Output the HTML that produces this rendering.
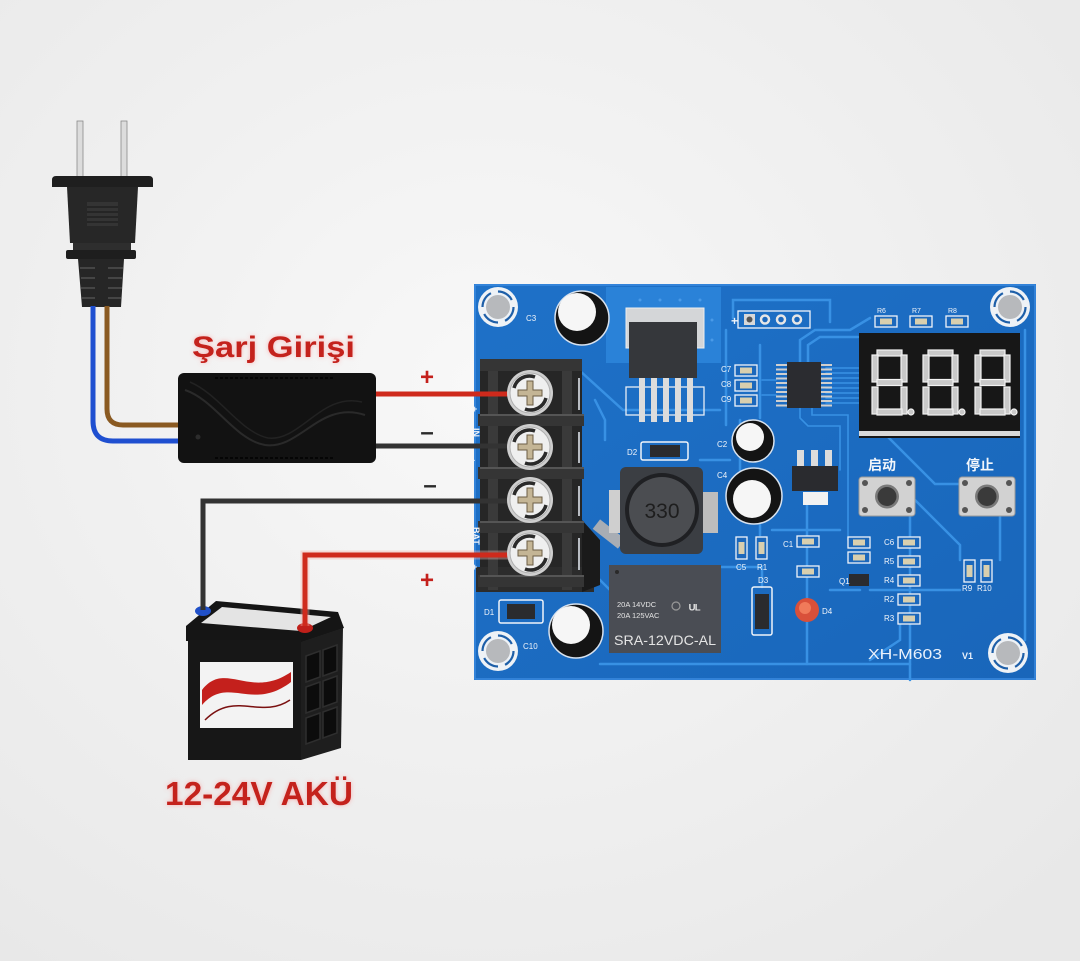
<!DOCTYPE html>
<html><head><meta charset="utf-8"><style>
html,body{margin:0;padding:0;width:1080px;height:961px;overflow:hidden;background:#efefef}
svg{display:block}
</style></head><body>
<svg width="1080" height="961" viewBox="0 0 1080 961" xmlns="http://www.w3.org/2000/svg">
<defs>
<radialGradient id="bg" cx="45%" cy="40%" r="75%"><stop offset="0" stop-color="#f8f8f8"/><stop offset="1" stop-color="#e8e8e8"/></radialGradient>
<linearGradient id="pcb" x1="0" y1="0" x2="1" y2="1"><stop offset="0" stop-color="#1e71c8"/><stop offset="1" stop-color="#1966ba"/></linearGradient>
<filter id="glow" x="-10%" y="-40%" width="120%" height="180%"><feGaussianBlur in="SourceAlpha" stdDeviation="2.5" result="b"/><feFlood flood-color="#ff7070" flood-opacity="0.5"/><feComposite in2="b" operator="in" result="g"/><feMerge><feMergeNode in="g"/><feMergeNode in="SourceGraphic"/></feMerge></filter>
<g id="screw">
<circle r="23" fill="#cfcfcf"/>
<circle r="20" fill="#efefef" stroke="#b0b0b0" stroke-width="1"/>
<path d="M-16,-5 A16,16 0 0 1 5,-16" stroke="#2a2a2a" stroke-width="3.5" fill="none"/>
<path d="M16,5 A16,16 0 0 1 -5,16" stroke="#2a2a2a" stroke-width="3.5" fill="none"/>
<path d="M-3,-12 L3,-12 L3,-3 L12,-3 L12,3 L3,3 L3,12 L-3,12 L-3,3 L-12,3 L-12,-3 L-3,-3Z" fill="#c4b595" stroke="#6b5d45" stroke-width="1"/>
</g>
<g id="hole">
<circle r="20" fill="#eef2f6"/>
<circle r="15.5" fill="none" stroke="#1e5fa8" stroke-width="2.2" stroke-dasharray="17 7.3"/>
<circle r="12" fill="#b7b9bc"/>
</g>
<g id="smd"><rect x="0" y="0" width="22" height="11" fill="#1c68bc" stroke="#f0f4fa" stroke-width="1.3"/><rect x="5" y="2.5" width="12" height="6" fill="#d9cfae"/></g>
<g id="smdv"><rect x="0" y="0" width="11" height="22" fill="#1c68bc" stroke="#f0f4fa" stroke-width="1.3"/><rect x="2.5" y="5" width="6" height="12" fill="#d9cfae"/></g>
<g id="dig" fill="#c9c9c9" stroke="#f2f2f2" stroke-width="1.2">
<rect x="5" y="0" width="25" height="6"/><rect x="0" y="5" width="6" height="27"/><rect x="29" y="5" width="6" height="27"/>
<rect x="5" y="29.5" width="25" height="6"/><rect x="0" y="37" width="6" height="27"/><rect x="29" y="37" width="6" height="27"/>
<rect x="5" y="59" width="25" height="6"/><circle cx="39" cy="62" r="3"/>
</g>
<g id="btn">
<rect x="0" y="0" width="56" height="39" rx="3" fill="#d2d2d2" stroke="#9a9a9a" stroke-width="1"/>
<circle cx="6" cy="6" r="3" fill="#555"/><circle cx="50" cy="6" r="3" fill="#555"/><circle cx="6" cy="33" r="3" fill="#555"/><circle cx="50" cy="33" r="3" fill="#555"/>
<circle cx="28" cy="19.5" r="12" fill="#7a7a7a"/><circle cx="28" cy="19.5" r="9.5" fill="#3a3a3a"/>
</g>
</defs>

<rect width="1080" height="961" fill="url(#bg)"/>

<!-- plug -->
<rect x="77" y="121" width="6" height="58" fill="#dcdcdc" stroke="#8a8a8a" stroke-width="0.8"/>
<rect x="121" y="121" width="6" height="58" fill="#dcdcdc" stroke="#8a8a8a" stroke-width="0.8"/>
<path d="M56,176 H149 Q153,176 153,180 V187 H52 V180 Q52,176 56,176Z" fill="#1f1f1f"/>
<path d="M67,187 H138 L135,243 H70 Z" fill="#272727"/>
<rect x="87" y="202" width="31" height="24" fill="#343434"/>
<g stroke="#1c1c1c" stroke-width="1.3"><line x1="87" y1="207" x2="118" y2="207"/><line x1="87" y1="212" x2="118" y2="212"/><line x1="87" y1="217" x2="118" y2="217"/><line x1="87" y1="222" x2="118" y2="222"/></g>
<rect x="73" y="243" width="58" height="8" fill="#2e2e2e"/>
<rect x="66" y="250" width="70" height="9" rx="2" fill="#1e1e1e"/>
<path d="M78,259 H124 L121,307 H82 Z" fill="#262626"/>
<g stroke="#454545" stroke-width="2"><line x1="80" y1="268" x2="95" y2="268"/><line x1="108" y1="268" x2="123" y2="268"/><line x1="81" y1="278" x2="95" y2="278"/><line x1="108" y1="278" x2="122" y2="278"/><line x1="81" y1="288" x2="95" y2="288"/><line x1="108" y1="288" x2="122" y2="288"/><line x1="82" y1="298" x2="95" y2="298"/><line x1="108" y1="298" x2="121" y2="298"/></g>
<!-- mains wires -->
<path d="M93,306 V421 Q93,441 113,441 H182" stroke="#1f4fd0" stroke-width="5" fill="none"/>
<path d="M107,306 V409 Q107,425 123,425 H182" stroke="#8a5a22" stroke-width="5" fill="none"/>

<!-- charger box -->
<rect x="178" y="373" width="198" height="90" rx="6" fill="#121212"/>
<path d="M185,390 C215,400 235,440 265,445 C300,450 320,400 365,415" stroke="#2a2a2a" stroke-width="2" fill="none"/>
<path d="M190,382 C220,395 240,432 268,438 C300,442 322,392 362,402" stroke="#222" stroke-width="1.5" fill="none"/>
<g stroke="#050505" stroke-width="2"><line x1="215" y1="378" x2="335" y2="378" stroke-dasharray="3 2"/><line x1="215" y1="458" x2="335" y2="458" stroke-dasharray="3 2"/></g>
<circle cx="198" cy="437" r="2.5" fill="#2c2c2c"/>

<text x="192" y="357" font-family="Liberation Sans, sans-serif" font-weight="bold" font-size="30" fill="#c4201c" textLength="163" lengthAdjust="spacingAndGlyphs" filter="url(#glow)">Şarj Girişi</text>

<!-- wire signs -->
<g font-family="Liberation Sans, sans-serif" font-weight="bold" font-size="24" text-anchor="middle">
<text x="427" y="385" fill="#c4201c">+</text>
<text x="427" y="440" fill="#2a2a2a">–</text>
<text x="430" y="493" fill="#2a2a2a">–</text>
<text x="427" y="588" fill="#c4201c">+</text>
</g>

<!-- battery -->
<polygon points="186,626 216,601 338,612 344,628 302,642 186,641" fill="#151515"/>
<polygon points="201,623 222,607 331,617 301,631" fill="#e4e4e4"/>
<rect x="188" y="640" width="113" height="120" fill="#171717"/>
<polygon points="301,642 343,628 341,748 301,760" fill="#1e1e1e"/>
<g fill="#0c0c0c" stroke="#2e2e2e" stroke-width="1.5">
<polygon points="306,656 320,651 320,677 306,682"/><polygon points="323,650 337,645 337,671 323,676"/>
<polygon points="306,687 320,682 320,708 306,713"/><polygon points="323,681 337,676 337,702 323,707"/>
<polygon points="306,718 320,713 320,739 306,744"/><polygon points="323,712 337,707 337,733 323,738"/>
</g>
<rect x="200" y="662" width="93" height="66" fill="#f3f3f3"/>
<path d="M202,690 C225,660 250,700 291,672 L291,682 C252,712 228,675 202,705 Z" fill="#c4201c"/>
<path d="M205,720 C235,690 260,720 290,700" stroke="#7a1010" stroke-width="1.5" fill="none"/>
<ellipse cx="203" cy="611" rx="8" ry="5" fill="#2050c8"/>
<ellipse cx="305" cy="628" rx="8" ry="5" fill="#c0201a"/>

<text x="165" y="805" font-family="Liberation Sans, sans-serif" font-weight="bold" font-size="33" fill="#c4201c" textLength="188" lengthAdjust="spacingAndGlyphs" filter="url(#glow)">12-24V AKÜ</text>

<!-- PCB -->
<rect x="474" y="284" width="562" height="396" fill="url(#pcb)"/>
<rect x="475" y="285" width="560" height="394" fill="none" stroke="#3a8ae0" stroke-width="1.5"/>
<rect x="606" y="287" width="115" height="76" fill="#2a82d8"/>
<g fill="#4a9ae8"><circle cx="640" cy="300" r="1.5"/><circle cx="660" cy="300" r="1.5"/><circle cx="680" cy="300" r="1.5"/><circle cx="700" cy="300" r="1.5"/><circle cx="712" cy="320" r="1.5"/><circle cx="712" cy="340" r="1.5"/></g>

<!-- traces -->
<g stroke="#3891e4" stroke-width="2.5" fill="none" stroke-linecap="round">
<path d="M579,370 L623,410 H720"/>
<path d="M726,330 V425"/>
<path d="M733,318 V300 H830 V322"/>
<path d="M760,345 V418"/>
<path d="M800,362 V340 L815,330 H850 L870,318"/>
<path d="M808,362 V345 L820,337 H858"/>
<g stroke-width="1.6"><path d="M826,368 H859"/><path d="M826,373 H859"/><path d="M826,378 H859"/><path d="M826,383 H859"/><path d="M826,388 H859"/><path d="M826,393 H859"/><path d="M826,398 H859"/><path d="M826,403 H859"/>
<path d="M800,408 V418 L808,426 H840 V470"/><path d="M812,408 V415 H848 V540"/><path d="M776,380 H762"/><path d="M776,395 H762"/></g>
<path d="M888,437 L935,484 H960"/>
<path d="M1000,516 V560"/>
<path d="M915,500 L960,545 V560"/>
<path d="M910,516 V680"/>
<path d="M600,664 H910"/>
<path d="M807,505 V664"/>
<path d="M830,590 H860 M870,590 H960"/>
<path d="M721,567 H762 V587"/>
<path d="M772,530 H840"/>
<path d="M700,460 H730"/>
<path d="M580,560 L612,592"/>
<path d="M595,400 L605,420 V440"/>
<path d="M1025,330 V640"/>
<path d="M870,660 L900,640 V620"/>
<path d="M740,420 V470"/>
<path d="M760,525 V535"/>
</g>

<!-- mounting holes -->
<use href="#hole" x="498" y="307"/>
<use href="#hole" x="1010" y="307"/>
<use href="#hole" x="498" y="651"/>
<use href="#hole" x="1008" y="653"/>

<!-- capacitors -->
<circle cx="582" cy="318" r="27" fill="#141414" stroke="#d8e2ee" stroke-width="1.5"/>
<circle cx="577" cy="312" r="19" fill="#f6f6f6"/>
<circle cx="576" cy="631" r="27" fill="#141414" stroke="#d8e2ee" stroke-width="1.5"/>
<circle cx="571" cy="625" r="19" fill="#f6f6f6"/>
<circle cx="753" cy="441" r="21" fill="#141414" stroke="#d8e2ee" stroke-width="1.5"/>
<circle cx="750" cy="437" r="14" fill="#f6f6f6"/>
<circle cx="754" cy="496" r="28" fill="#141414" stroke="#d8e2ee" stroke-width="1.5"/>
<circle cx="752" cy="499" r="19" fill="#f6f6f6"/>

<!-- TO-263 regulator -->
<rect x="626" y="308" width="78" height="40" fill="#d4d6d8" stroke="#eee" stroke-width="1"/>
<rect x="629" y="322" width="68" height="56" fill="#35373b"/>
<rect x="626" y="387" width="78" height="28" fill="none" stroke="#e8eef6" stroke-width="1.3"/>
<g fill="#dcdcdc"><rect x="639" y="378" width="6" height="44"/><rect x="651" y="378" width="6" height="44"/><rect x="663" y="378" width="6" height="44"/><rect x="675" y="378" width="6" height="44"/><rect x="687" y="378" width="6" height="44"/></g>

<!-- header -->
<rect x="738" y="311" width="72" height="17" fill="none" stroke="#f0f4fa" stroke-width="1.3"/>
<rect x="744" y="314" width="11" height="11" fill="#d8d8d8"/><circle cx="749.5" cy="319.5" r="3" fill="#555"/>
<g fill="#1c68bc" stroke="#e6e6e6" stroke-width="2.5"><circle cx="765" cy="319.5" r="4"/><circle cx="781" cy="319.5" r="4"/><circle cx="797" cy="319.5" r="4"/></g>

<!-- C7 C8 C9 -->
<use href="#smd" x="735" y="365"/><use href="#smd" x="735" y="380"/><use href="#smd" x="735" y="395"/>

<!-- IC -->
<g fill="#cfcfcf"><rect x="776" y="364" width="11" height="2"/><rect x="776" y="368.5" width="11" height="2"/><rect x="776" y="373" width="11" height="2"/><rect x="776" y="377.5" width="11" height="2"/><rect x="776" y="382" width="11" height="2"/><rect x="776" y="386.5" width="11" height="2"/><rect x="776" y="391" width="11" height="2"/><rect x="776" y="395.5" width="11" height="2"/><rect x="776" y="400" width="11" height="2"/><rect x="776" y="404.5" width="11" height="2"/>
<rect x="821" y="364" width="11" height="2"/><rect x="821" y="368.5" width="11" height="2"/><rect x="821" y="373" width="11" height="2"/><rect x="821" y="377.5" width="11" height="2"/><rect x="821" y="382" width="11" height="2"/><rect x="821" y="386.5" width="11" height="2"/><rect x="821" y="391" width="11" height="2"/><rect x="821" y="395.5" width="11" height="2"/><rect x="821" y="400" width="11" height="2"/><rect x="821" y="404.5" width="11" height="2"/></g>
<rect x="787" y="362" width="34" height="46" fill="#2b2c30"/>

<!-- display -->
<rect x="859" y="333" width="161" height="105" fill="#171717"/>
<rect x="859" y="431" width="161" height="5" fill="#d9d9d9"/>
<use href="#dig" x="872" y="350"/><use href="#dig" x="923" y="350"/><use href="#dig" x="975" y="350"/>

<!-- R6 R7 R8 -->
<use href="#smd" x="875" y="316"/><use href="#smd" x="910" y="316"/><use href="#smd" x="946" y="316"/>

<!-- D2 -->
<rect x="641" y="442" width="47" height="18" rx="2" fill="none" stroke="#f0f4fa" stroke-width="1.5"/>
<rect x="650" y="445" width="30" height="12" fill="#2a2b2e"/>

<!-- inductor -->
<rect x="593" y="528" width="32" height="12" fill="#a8adb4" transform="rotate(38 609 534)"/>
<rect x="609" y="490" width="13" height="43" fill="#cfcfcf"/>
<rect x="702" y="492" width="16" height="41" fill="#bdbdbd"/>
<rect x="620" y="467" width="83" height="87" rx="6" fill="#3b3e43"/>
<circle cx="662" cy="510" r="37" fill="#1f2023"/>
<circle cx="662" cy="510" r="33" fill="#4b4d51"/>
<text x="662" y="518" font-family="Liberation Sans, sans-serif" font-size="21" fill="#1e1e1e" text-anchor="middle">330</text>

<!-- SOT-223 -->
<g fill="#dcdcdc"><rect x="797" y="450" width="7" height="18"/><rect x="811" y="450" width="7" height="18"/><rect x="825" y="450" width="7" height="18"/></g>
<rect x="792" y="466" width="46" height="25" fill="#2a2b2f"/>
<rect x="803" y="492" width="25" height="13" fill="#f2f2f2"/>

<!-- buttons -->
<use href="#btn" x="859" y="477"/>
<use href="#btn" x="959" y="477"/>
<g font-family="Liberation Sans, 'Noto Sans CJK SC', sans-serif" font-size="14" fill="#f2f6fb" font-weight="bold">
<text x="868" y="470">启动</text><text x="966" y="470">停止</text>
</g>

<!-- small SMDs -->
<use href="#smdv" x="736" y="537"/><use href="#smdv" x="756" y="537"/>
<use href="#smd" x="797" y="536"/><use href="#smd" x="797" y="566"/>
<use href="#smd" x="848" y="537"/><use href="#smd" x="848" y="552"/>
<rect x="849" y="574" width="20" height="12" fill="#2a2b2f"/>
<use href="#smd" x="898" y="537"/><use href="#smd" x="898" y="556"/><use href="#smd" x="898" y="575"/><use href="#smd" x="898" y="594"/><use href="#smd" x="898" y="613"/>
<use href="#smdv" x="964" y="560"/><use href="#smdv" x="981" y="560"/>

<!-- D3 -->
<rect x="752" y="587" width="20" height="48" rx="2" fill="none" stroke="#f0f4fa" stroke-width="1.5"/>
<rect x="755" y="594" width="14" height="35" fill="#2a2b2e"/>
<!-- D4 -->
<circle cx="807" cy="610" r="12" fill="#d9503a"/>
<circle cx="805" cy="608" r="6" fill="#f07a5a"/>

<!-- D1 -->
<rect x="499" y="600" width="44" height="23" rx="2" fill="none" stroke="#f0f4fa" stroke-width="1.5"/>
<rect x="507" y="604" width="28" height="15" fill="#2a2b2e"/>

<!-- relay -->
<rect x="609" y="565" width="112" height="88" fill="#4a4d54"/>
<circle cx="617" cy="572" r="2" fill="#2a2a2a"/>
<circle cx="676" cy="606" r="4" fill="none" stroke="#999" stroke-width="1.2"/>
<g font-family="Liberation Sans, sans-serif" fill="#e4e4e4">
<text x="617" y="607" font-size="7.5">20A 14VDC</text>
<text x="617" y="618" font-size="7.5">20A 125VAC</text>
<text x="689" y="614" font-size="14" font-weight="bold">ᵁᴸ</text>
<text x="614" y="645" font-size="14" textLength="102" lengthAdjust="spacingAndGlyphs">SRA-12VDC-AL</text>
</g>

<!-- silkscreen labels -->
<g font-family="Liberation Sans, sans-serif" font-size="8" fill="#f0f4fa">
<text x="526" y="321">C3</text>
<text x="721" y="372">C7</text><text x="721" y="387">C8</text><text x="721" y="402">C9</text>
<text x="627" y="455">D2</text>
<text x="717" y="447">C2</text><text x="717" y="478">C4</text>
<text x="484" y="615">D1</text>
<text x="523" y="649">C10</text>
<text x="783" y="547">C1</text>
<text x="736" y="570">C5</text><text x="757" y="570">R1</text>
<text x="758" y="583">D3</text>
<text x="822" y="614">D4</text>
<text x="839" y="584">Q1</text>
<text x="884" y="545">C6</text><text x="884" y="564">R5</text><text x="884" y="583">R4</text><text x="884" y="602">R2</text><text x="884" y="621">R3</text>
<text x="962" y="591">R9</text><text x="977" y="591">R10</text>
<text x="877" y="313" font-size="7">R6</text><text x="912" y="313" font-size="7">R7</text><text x="948" y="313" font-size="7">R8</text>
<text x="731" y="325" font-size="12" font-weight="bold">+</text>
</g>
<text x="868" y="659" font-family="Liberation Sans, sans-serif" font-size="15" fill="#eaf1fb" textLength="74" lengthAdjust="spacingAndGlyphs">XH-M603</text>
<text x="962" y="659" font-family="Liberation Sans, sans-serif" font-size="9" font-weight="bold" fill="#eaf1fb">V1</text>

<!-- terminal block -->
<rect x="480" y="360" width="102" height="232" fill="#262626"/>
<rect x="476" y="567" width="118" height="25" fill="#2c2c2c"/>
<polygon points="582,520 600,540 600,585 582,592" fill="#1a1a1a"/>
<g fill="#3a3a3a"><rect x="488" y="362" width="10" height="228"/><rect x="562" y="362" width="10" height="228"/></g>
<g fill="#353535"><rect x="480" y="359" width="102" height="12"/><rect x="478" y="414" width="106" height="12"/><rect x="478" y="467" width="106" height="12"/><rect x="478" y="521" width="106" height="12"/><rect x="478" y="575" width="106" height="12"/></g>
<g fill="#555"><rect x="480" y="414" width="104" height="2"/><rect x="480" y="467" width="104" height="2"/><rect x="480" y="521" width="104" height="2"/><rect x="480" y="575" width="104" height="2"/></g>
<g stroke="#e8eef6" stroke-width="1.5"><line x1="579" y1="378" x2="579" y2="410"/><line x1="579" y1="432" x2="579" y2="463"/><line x1="579" y1="486" x2="579" y2="516"/><line x1="579" y1="538" x2="579" y2="570"/></g>
<g font-family="Liberation Sans, sans-serif" font-size="9" font-weight="bold" fill="#f0f4fa">
<text x="472" y="412">+</text><text x="472" y="463">-</text>
<text transform="translate(473,428) rotate(90)">IN</text>
<text transform="translate(473,527) rotate(90)">BAT</text>
<text x="472" y="570">+</text>
</g>

<!-- DC wires -->
<path d="M376,394 H508" stroke="#cf2a1c" stroke-width="5" fill="none"/>
<path d="M376,446 H508" stroke="#333" stroke-width="5" fill="none"/>
<path d="M203,610 V501 H508" stroke="#333" stroke-width="5" fill="none"/>
<path d="M305,626 V555 H508" stroke="#f5b0a8" stroke-width="9" fill="none" opacity="0.4"/>
<path d="M305,626 V555 H508" stroke="#cf2a1c" stroke-width="5" fill="none"/>

<!-- screws -->
<use href="#screw" x="530" y="393"/>
<use href="#screw" x="530" y="447"/>
<use href="#screw" x="530" y="500"/>
<use href="#screw" x="530" y="553"/>
</svg>
</body></html>
